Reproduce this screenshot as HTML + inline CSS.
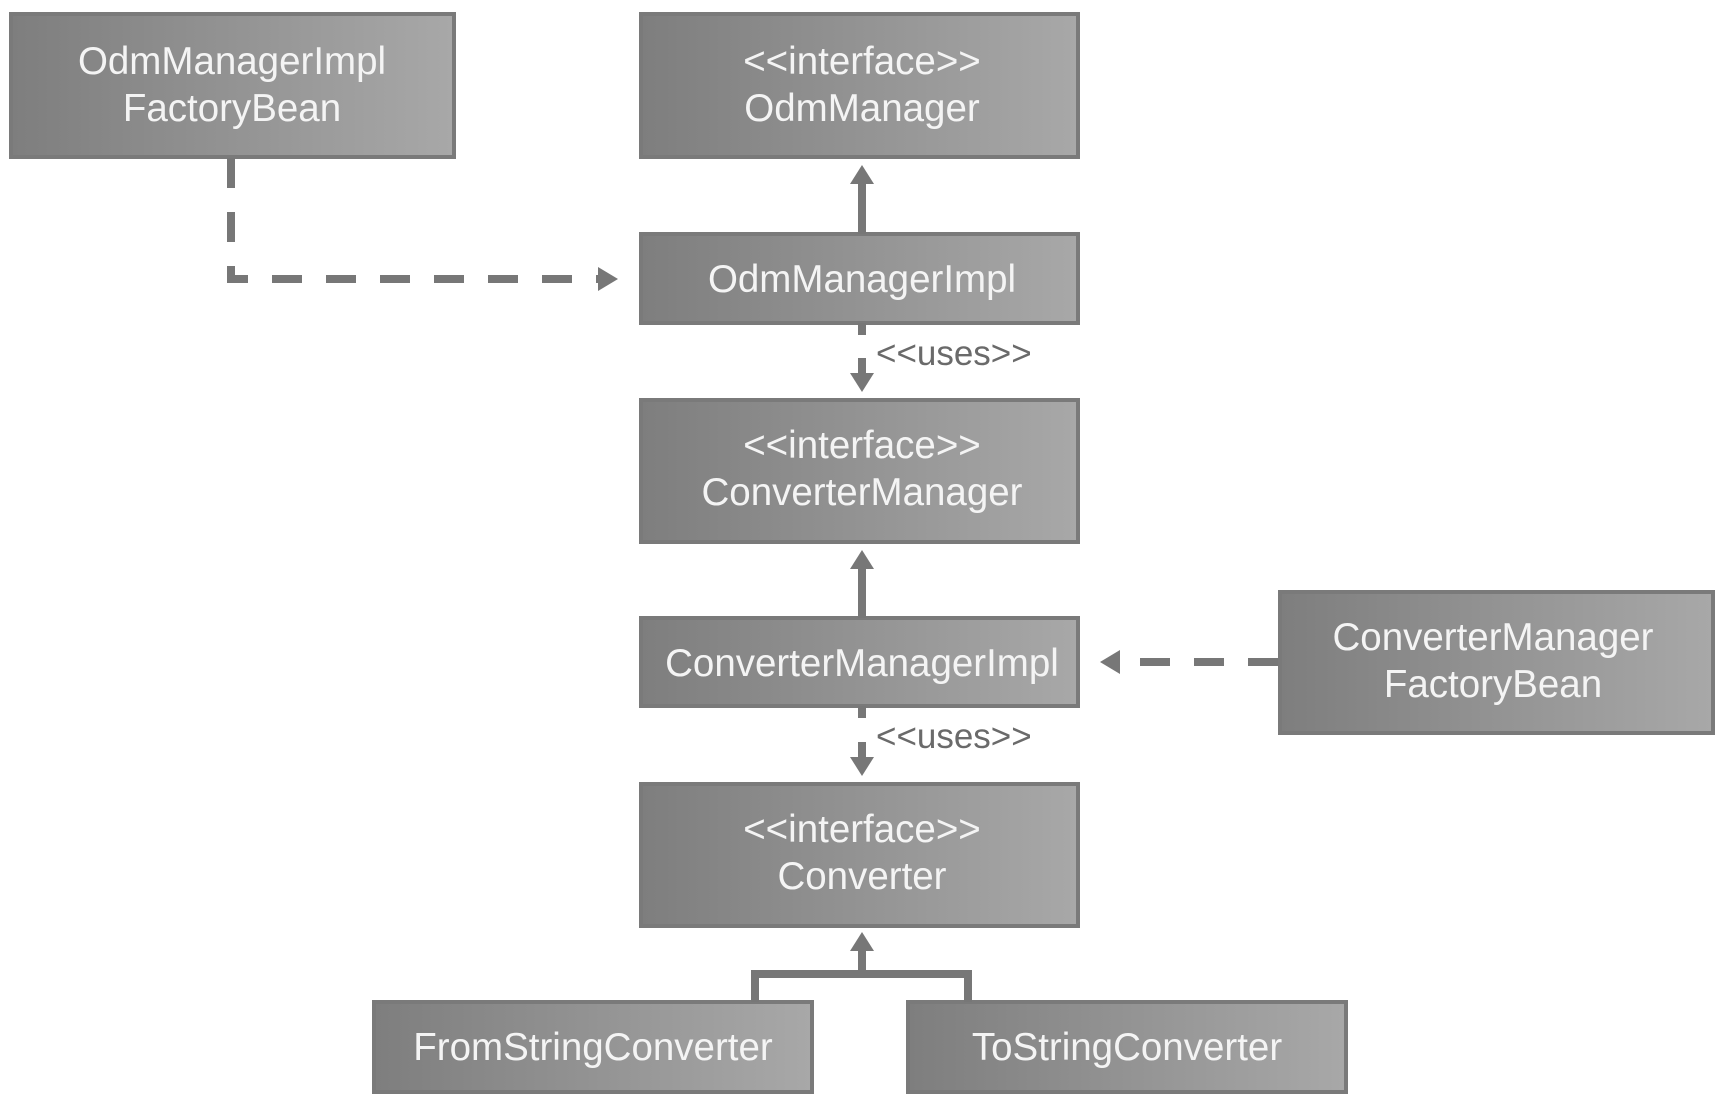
<!DOCTYPE html>
<html><head><meta charset="utf-8"><style>
html,body{margin:0;padding:0;background:#fff;}
svg{display:block;}
text{font-family:"Liberation Sans",Arial,sans-serif;fill:#f4f4f4;font-size:38.5px;text-anchor:middle;}
.lbl{fill:#6a6a6a;font-size:35px;text-anchor:start;}
</style></head><body>
<svg width="1728" height="1104" viewBox="0 0 1728 1104" xmlns="http://www.w3.org/2000/svg">
<defs>
<linearGradient id="g" x1="0" y1="0" x2="1" y2="0">
<stop offset="0" stop-color="#7e7e7e"/><stop offset="1" stop-color="#a8a8a8"/>
</linearGradient>
</defs>
<g stroke="#7a7a7a" stroke-width="4" fill="url(#g)">
<rect x="11" y="14" width="443" height="143"/>
<rect x="641" y="14" width="437" height="143"/>
<rect x="641" y="234" width="437" height="89"/>
<rect x="641" y="400" width="437" height="142"/>
<rect x="641" y="618" width="437" height="88"/>
<rect x="1280" y="592" width="433" height="141"/>
<rect x="641" y="784" width="437" height="142"/>
<rect x="374" y="1002" width="438" height="90"/>
<rect x="908" y="1002" width="438" height="90"/>
</g>
<g fill="none" stroke="#777" stroke-width="8">
<line x1="862" y1="234" x2="862" y2="178"/>
<line x1="862" y1="618" x2="862" y2="563"/>
<polyline points="755,1002 755,974 968,974 968,1002"/>
<line x1="862" y1="974" x2="862" y2="945"/>
<line x1="862" y1="323" x2="862" y2="335"/>
<line x1="862" y1="358" x2="862" y2="378"/>
<line x1="862" y1="706" x2="862" y2="718"/>
<line x1="862" y1="742" x2="862" y2="762"/>
<polyline points="231,158 231,279 600,279" stroke-dasharray="30,24"/>
<line x1="1278" y1="662" x2="1115" y2="662" stroke-dasharray="30,24"/>
</g>
<g fill="#777">
<polygon points="862,165 850,184 874,184"/>
<polygon points="862,550 850,569 874,569"/>
<polygon points="862,932 850,951 874,951"/>
<polygon points="862,392 850,373 874,373"/>
<polygon points="862,776 850,757 874,757"/>
<polygon points="618,279 598,267 598,291"/>
<polygon points="1100,662 1120,650 1120,674"/>
</g>
<text x="232" y="74">OdmManagerImpl</text>
<text x="232" y="121">FactoryBean</text>
<text x="862" y="74">&lt;&lt;interface&gt;&gt;</text>
<text x="862" y="121">OdmManager</text>
<text x="862" y="292">OdmManagerImpl</text>
<text x="862" y="458">&lt;&lt;interface&gt;&gt;</text>
<text x="862" y="505">ConverterManager</text>
<text x="862" y="676">ConverterManagerImpl</text>
<text x="1493" y="650">ConverterManager</text>
<text x="1493" y="697">FactoryBean</text>
<text x="862" y="842">&lt;&lt;interface&gt;&gt;</text>
<text x="862" y="889">Converter</text>
<text x="593" y="1060">FromStringConverter</text>
<text x="1127" y="1060">ToStringConverter</text>
<text class="lbl" x="876" y="365">&lt;&lt;uses&gt;&gt;</text>
<text class="lbl" x="876" y="748">&lt;&lt;uses&gt;&gt;</text>
</svg>
</body></html>
